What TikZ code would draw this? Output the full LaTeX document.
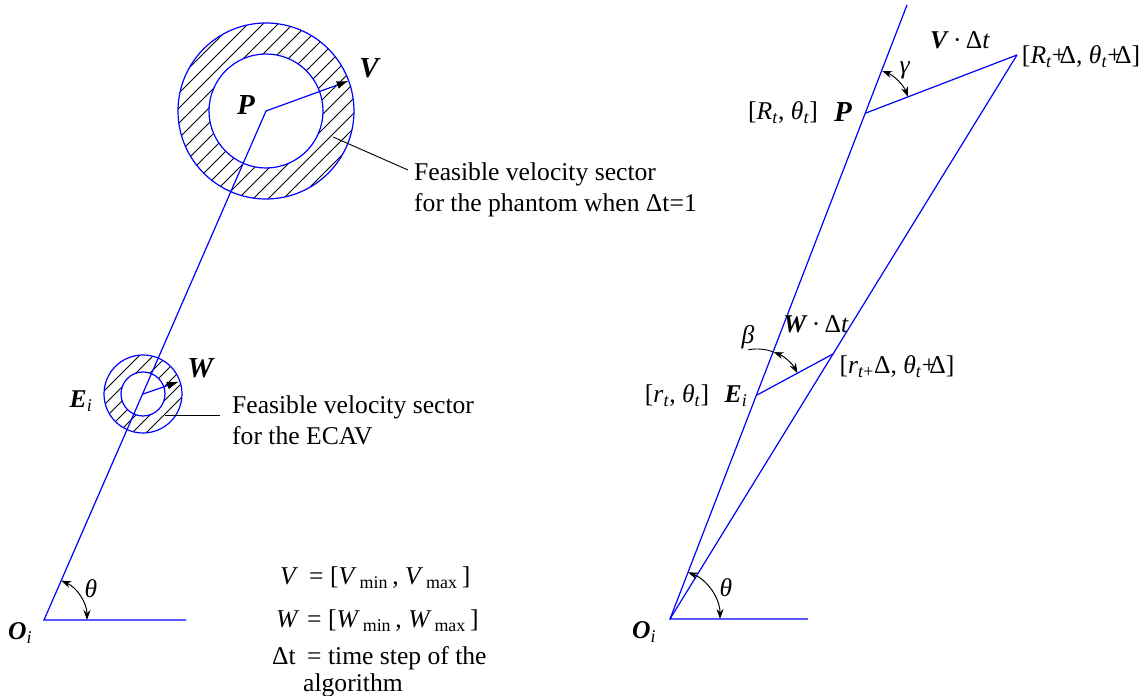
\documentclass[tikz,border=0pt]{standalone}
\usepackage{fontspec}
\setmainfont{Liberation Serif}
\usetikzlibrary{arrows.meta,calc}
\tikzset{ray/.style={draw=blue,line width=1.2pt},hatch/.style={draw=black,line width=0.9pt},vec/.style={ray,-{Latex[length=12pt,width=8pt,color=black,fill=black]}},ang/.style={draw=black,line width=1pt,{Stealth[length=10pt,width=7pt]}-{Stealth[length=10pt,width=7pt]}},lead/.style={draw=black,line width=0.9pt},lbl/.style={font=\fontsize{25.6}{31}\selectfont,inner sep=0pt},big/.style={font=\fontsize{29}{34}\selectfont,inner sep=0pt}}
\newcommand{\bi}[1]{\textbf{\textit{#1}}}
\newcommand{\gth}{\textit{θ}}
\newcommand{\sbs}[1]{\textsubscript{#1}}
\newcommand{\pd}{\makebox[0.3em][l]{+}Δ}

\begin{document}
\begin{tikzpicture}[x=1pt,y=1pt]
\useasboundingbox (0,0) rectangle (1141,696);
% left: sectors around P and E
\coordinate (Oa) at (44,76);\coordinate (Ha) at (186,76);
\coordinate (Pa) at (266,585);\coordinate (Ea) at (143,302);
\begin{scope}
\clip (Pa) circle[radius=88pt] (Ea) circle[radius=39pt];
\foreach \k in {-9,...,9}{\draw[hatch] ($(Pa)+(\k*15-100,-100)$) -- ++(200,200);}
\foreach \k in {-4,...,4}{\draw[hatch] ($(Ea)+(\k*14-50,-50)$) -- ++(100,100);}
\end{scope}
\fill[white] (Pa) circle[radius=57pt] (Ea) circle[radius=22pt];
\draw[ray] (Pa) circle[radius=88pt] (Pa) circle[radius=57pt];
\draw[ray] (Ea) circle[radius=39pt] (Ea) circle[radius=22pt];
\draw[ray] (Ha) -- (Oa) -- (Pa);
\draw[vec] (Pa) -- ($(Pa)+(20:88)$);
\draw[vec] (Ea) -- ($(Ea)+(19:38)$);
\draw[ang] ($(Oa)+(66.4:43)$) arc[start angle=66.4,end angle=0,radius=43pt];
\node[big] (Plbl) at (246,591) {\bi{P}};
\node[big] (Vlbl) at (370,628) {\bi{V}};
\node[big] (Wlbl) at (201,328) {\bi{W}};
\node[lbl] (Ealbl) at (81,295) {\bi{E}\sbs{\textit{i}}};
\node[lbl] (Oalbl) at (20,63) {\bi{O}\sbs{\textit{i}}};
\node[lbl] (thalbl) at (91,107) {\gth};
\node[lbl,align=left,anchor=north west] (ptxt) at (414,533) {Feasible velocity sector\\for the phantom when Δt=1};
\node[lbl,align=left,anchor=north west] (etxt) at (232,300) {Feasible velocity sector\\for the ECAV};
\coordinate (pl1) at (333,559);\coordinate (pl2) at (408,526);
\coordinate (el1) at (165,281);\coordinate (el2) at (220,281);
\draw[lead] (pl1) -- (pl2);
\draw[lead] (el1) -- (el2);
% legend
\node[lbl,anchor=base west] (lgV) at (280,111) {\textit{V}};
\node[lbl,anchor=base west] (lgVr) at (309,111) {= [\textit{V}\sbs{\,min}\,, \textit{V}\sbs{\,max}\,]};
\node[lbl,anchor=base west] (lgW) at (276,68) {\textit{W}};
\node[lbl,anchor=base west] (lgWr) at (307,68) {= [\textit{W}\sbs{\,min}\,, \textit{W}\sbs{\,max}\,]};
\node[lbl,anchor=base west] (lgT) at (272,31) {Δt};
\node[lbl,anchor=base west] (lgTr) at (307,31) {= time step of the};
\node[lbl,anchor=base west] (lgA) at (303,4) {algorithm};
% right: geometry of one step
\coordinate (Ob) at (670,77);\coordinate (Hb) at (808,77);
\coordinate (Eb) at (757,301);\coordinate (Pb) at (866,583);
\coordinate (Tb) at (907,691);\coordinate (Xb) at (1017,641);
\coordinate (Yb) at (833,342);
\draw[ray] (Hb) -- (Ob) -- (Tb);
\draw[ray] (Ob) -- (Xb);
\draw[ray] (Pb) -- (Xb);
\draw[ray] (Eb) -- (Yb);
\draw[ang] ($(Ob)+(68.9:50)$) arc[start angle=68.9,end angle=0,radius=50pt];
\draw[ang] ($(Pb)+(68.9:45)$) arc[start angle=68.9,end angle=21,radius=45pt];
\draw[ang] ($(Eb)+(68.9:46)$) arc[start angle=68.9,end angle=28.4,radius=46pt];
\draw[lead] ($(Eb)+(68.9:46)$) arc[start angle=68.9,end angle=101,radius=46pt];
\node[lbl] (VDt) at (960,656) {\bi{V}\,·\,Δ\textit{t}};
\node[lbl] (galbl) at (905,626) {\textit{γ}};
\node[lbl] (Rnext) at (1081,639) {[\textit{R}\sbs{\textit{t}}\pd, \gth\sbs{\textit{t}}\pd]};
\node[lbl] (Rnow) at (783,583) {[\textit{R}\sbs{\textit{t}}, \gth\sbs{\textit{t}}]};
\node[big] (Pblbl) at (843,584) {\bi{P}};
\node[lbl] (belbl) at (748,359) {\textit{β}};
\node[lbl] (WDt) at (816,372) {\bi{W}\,·\,Δ\textit{t}};
\node[lbl] (rnext) at (897,329) {[\textit{r}\sbs{\textit{t}+}Δ, \gth\sbs{\textit{t}}\pd]};
\node[lbl] (rnow) at (677,300) {[\textit{r}\sbs{\textit{t}}, \gth\sbs{\textit{t}}]};
\node[lbl] (Eblbl) at (736,300) {\bi{E}\sbs{\textit{i}}};
\node[lbl] (Oblbl) at (644,64) {\bi{O}\sbs{\textit{i}}};
\node[lbl] (thblbl) at (726,108) {\gth};
\end{tikzpicture}
\end{document}
